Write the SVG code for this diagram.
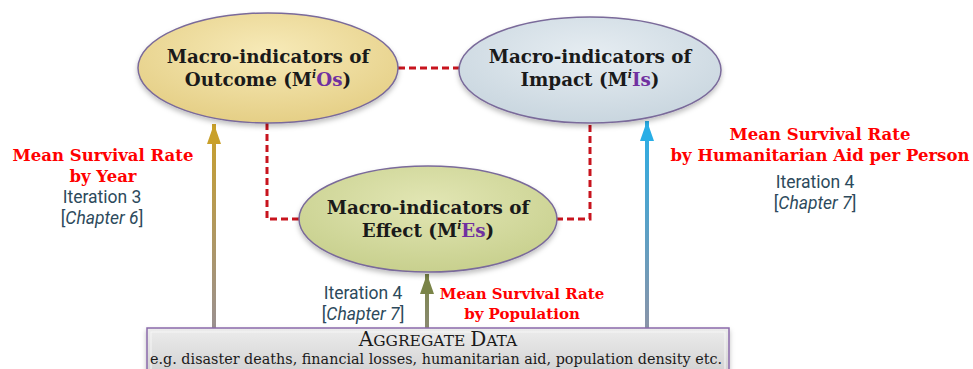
<svg xmlns="http://www.w3.org/2000/svg" width="973" height="369" viewBox="0 0 973 369">
<defs>
  <style>
    .title{font-family:"DejaVu Serif","Liberation Serif",serif;font-weight:bold;font-size:18.3px;fill:#1a1a1a;text-anchor:middle}
    .pur{fill:#7030a0}
    .sup{font-style:italic;font-size:11px}
    .red{font-family:"DejaVu Serif","Liberation Serif",serif;font-weight:bold;font-size:16.5px;fill:#ff0000;text-anchor:middle}
    .small{font-size:15px}
    .iter{font-family:Roboto,"DejaVu Sans",sans-serif;font-size:17.5px;fill:#2d4a5c;text-anchor:middle}
    .ital{font-style:italic}
    .dash{fill:none;stroke:#c8141e;stroke-width:3;stroke-dasharray:7,4}
    .ell{stroke:#7a6a9a;stroke-width:1.5}
    .box{font-family:"DejaVu Serif","Liberation Serif",serif;fill:#1a1a1a;text-anchor:middle}
  </style>
  <radialGradient id="gO" cx="50%" cy="35%" r="65%">
    <stop offset="0" stop-color="#f7eab8"/>
    <stop offset="1" stop-color="#e5cf86"/>
  </radialGradient>
  <radialGradient id="gI" cx="50%" cy="35%" r="65%">
    <stop offset="0" stop-color="#e6edf2"/>
    <stop offset="1" stop-color="#c9d6df"/>
  </radialGradient>
  <radialGradient id="gE" cx="50%" cy="35%" r="65%">
    <stop offset="0" stop-color="#e2e6b4"/>
    <stop offset="1" stop-color="#c8d08e"/>
  </radialGradient>
  <linearGradient id="gBox" x1="0" y1="0" x2="0" y2="1">
    <stop offset="0" stop-color="#ececec"/>
    <stop offset="1" stop-color="#d2d2d2"/>
  </linearGradient>
  <linearGradient id="aO" gradientUnits="userSpaceOnUse" x1="0" y1="125" x2="0" y2="328">
    <stop offset="0" stop-color="#c9a02a"/>
    <stop offset="1" stop-color="#9a9090"/>
  </linearGradient>
  <linearGradient id="aI" gradientUnits="userSpaceOnUse" x1="0" y1="122" x2="0" y2="328">
    <stop offset="0" stop-color="#29aee6"/>
    <stop offset="1" stop-color="#8a94a8"/>
  </linearGradient>
  <linearGradient id="aE" gradientUnits="userSpaceOnUse" x1="0" y1="274" x2="0" y2="328">
    <stop offset="0" stop-color="#7a8448"/>
    <stop offset="1" stop-color="#8a8a70"/>
  </linearGradient>
  <marker id="mO" markerUnits="userSpaceOnUse" markerWidth="22" markerHeight="14" refX="20" refY="7" orient="auto">
    <path d="M0,0 L20,7 L0,14 z" fill="#c9a02a"/>
  </marker>
  <marker id="mI" markerUnits="userSpaceOnUse" markerWidth="22" markerHeight="14" refX="20" refY="7" orient="auto">
    <path d="M0,0 L20,7 L0,14 z" fill="#29aee6"/>
  </marker>
  <marker id="mE" markerUnits="userSpaceOnUse" markerWidth="22" markerHeight="14" refX="20" refY="7" orient="auto">
    <path d="M0,0 L20,7 L0,14 z" fill="#7a8448"/>
  </marker>
  <filter id="sh" x="-10%" y="-10%" width="120%" height="130%">
    <feDropShadow dx="0" dy="3" stdDeviation="2.5" flood-color="#000" flood-opacity="0.25"/>
  </filter>
</defs>
<rect width="973" height="369" fill="#ffffff"/>

<g id="connectors">
  <path class="dash" d="M398,68 H460"/>
  <path class="dash" d="M267,123 V219 H300"/>
  <path class="dash" d="M556,219 H590 V120"/>
  <line x1="214" y1="328" x2="214" y2="124" stroke="url(#aO)" stroke-width="4" marker-end="url(#mO)"/>
  <line x1="647" y1="328" x2="647" y2="121" stroke="url(#aI)" stroke-width="4" marker-end="url(#mI)"/>
  <line x1="427" y1="328" x2="427" y2="274" stroke="url(#aE)" stroke-width="4" marker-end="url(#mE)"/>
</g>

<g id="outcome">
  <ellipse class="ell" cx="268" cy="68" rx="130" ry="55" fill="url(#gO)" filter="url(#sh)"/>
  <text class="title" x="268" y="63">Macro-indicators of<tspan x="268" y="86">Outcome (M</tspan><tspan class="sup" dy="-8">i</tspan><tspan class="pur" dy="8">Os</tspan>)</text>
</g>

<g id="impact">
  <ellipse class="ell" cx="590" cy="70" rx="131" ry="53" fill="url(#gI)" filter="url(#sh)"/>
  <text class="title" x="590" y="63">Macro-indicators of<tspan x="590" y="86">Impact (M</tspan><tspan class="sup" dy="-8">i</tspan><tspan class="pur" dy="8">Is</tspan>)</text>
</g>

<g id="effect">
  <ellipse class="ell" cx="428" cy="219" rx="129" ry="53" fill="url(#gE)" filter="url(#sh)"/>
  <text class="title" x="428" y="214">Macro-indicators of<tspan x="428" y="237">Effect (M</tspan><tspan class="sup" dy="-8">i</tspan><tspan class="pur" dy="8">Es</tspan>)</text>
</g>

<g id="aggregate">
  <rect x="147" y="328" width="582" height="46" fill="url(#gBox)" stroke="#8a6aaa" stroke-width="1.5" filter="url(#sh)"/>
  <rect x="151" y="332" width="574" height="40" fill="none" stroke="#f6f6f6" stroke-width="1"/>
  <text class="box" x="438" y="346" font-size="20">A<tspan font-size="15.5">GGREGATE </tspan>D<tspan font-size="15.5">ATA</tspan><tspan x="436" y="364" font-size="14" textLength="572" lengthAdjust="spacingAndGlyphs">e.g. disaster deaths, financial losses, humanitarian aid, population density etc.</tspan></text>
</g>

<g id="label-year">
  <text class="red" x="103" y="161">Mean Survival Rate<tspan x="103" y="182">by Year</tspan></text>
  <text class="iter" x="102" y="203">Iteration 3<tspan x="102" y="223.5">[<tspan class="ital">Chapter 6</tspan>]</tspan></text>
</g>

<g id="label-aid">
  <text class="red" x="820" y="140">Mean Survival Rate<tspan x="820" y="161">by Humanitarian Aid per Person</tspan></text>
  <text class="iter" x="815" y="188">Iteration 4<tspan x="815" y="208.5">[<tspan class="ital">Chapter 7</tspan>]</tspan></text>
</g>

<g id="label-pop">
  <text class="iter" x="363" y="299">Iteration 4<tspan x="363" y="319.5">[<tspan class="ital">Chapter 7</tspan>]</tspan></text>
  <text class="red small" x="522" y="299">Mean Survival Rate<tspan x="522" y="319">by Population</tspan></text>
</g>
</svg>
